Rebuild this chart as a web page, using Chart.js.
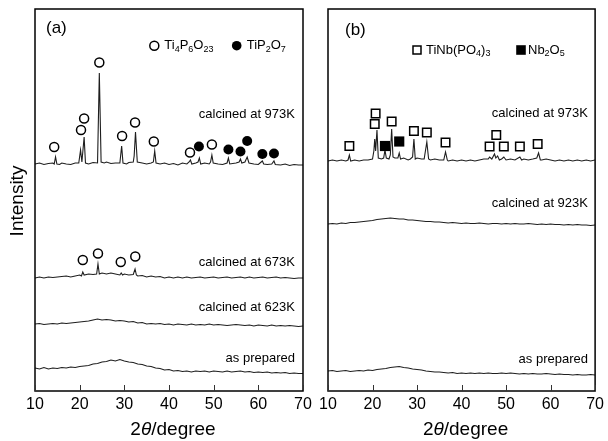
<!DOCTYPE html>
<html>
<head>
<meta charset="utf-8">
<script src="https://cdn.jsdelivr.net/npm/chart.js@4.4.0/dist/chart.umd.min.js"></script>
<style>
  html, body { margin: 0; padding: 0; background: #fff; overflow: hidden; }
  #wrap { position: relative; width: 608px; height: 441px; }
  canvas { position: absolute; left: 0; top: 0; }
</style>
</head>
<body>
<div id="wrap">
  <canvas id="chartA" width="608" height="441"></canvas>
  <canvas id="chartB" width="608" height="441"></canvas>
</div>
<script>
const FONT = '"Liberation Sans", Arial, sans-serif';

// 2theta ticks
const xTicks = [10, 20, 30, 40, 50, 60, 70];

// PANEL (a) TRACES  [2theta, intensity (offset units)]
const a973 = [
  [10,227],[11,228],[12,226.5],[13,227.5],[14,228],[14.3,227],[14.6,234],[14.9,227],[15.5,226.5],[16,228],
  [17,227],[18,226.5],[19,228],[19.8,228],[20.2,241],[20.5,229],[21.0,254],[21.3,228],[22,227],[23,228.5],
  [24,228],[24.4,318],[24.8,229],[25.5,228],[26,229],[27,227.5],[28,228],[29,228],[29.4,245],[29.7,228],
  [30.5,227],[31,228.5],[32,229],[32.2,235],[32.5,259],[32.9,229],[34,228],[35,227],[36,228],[36.5,229],
  [36.8,240],[37.1,228],[38,227],[39,228],[40,226.5],[41,227.5],[42,226],[43,228],[44,227],[44.5,229],
  [44.8,231],[45.1,227],[46,228],[46.5,229],[46.8,233],[47.1,227],[48,228],[49,227],[49.3,229],[49.6,236],
  [49.9,228],[51,227],[52,226.5],[53,228],[53.3,233],[53.6,227],[55,228],[55.7,229],[56.0,232],[56.3,228],
  [57,229],[57.5,234],[57.9,228],[59,227],[60,226.5],[60.9,230],[61.2,227],[62,226.5],[63,227],[63.5,230],
  [63.8,226.5],[65,226],[66,227],[67,225.5],[68,226.5],[69,226],[70,226]
];
const a673 = [
  [10,113],[11,114],[12,113],[13,114],[14,113.5],[15,114],[16,114.5],[17,115],[18,114],[19,115],
  [20,116],[20.4,115],[20.7,119],[21,116],[22,117],[23,116.5],[23.8,117],[24.1,127],[24.4,117],[25,118],
  [26,117],[27,118],[28,117],[29,116],[29.3,118],[29.6,116],[30,117],[31,116],[32,116.5],[32.4,122],
  [32.7,116],[33,115],[34,115.5],[35,114],[36,115],[37,114],[38,114.5],[39,113],[40,114],[41,113],
  [42,114],[43,113],[44,114],[45,113],[46,113.5],[47,114],[48,113],[49,113.5],[50,114],[51,113],
  [52,113.5],[53,114],[54,113],[55,113.5],[56,114],[57,113],[58,114],[59,113],[60,113.5],[61,114],
  [62,113],[63,113.5],[64,114],[65,113],[66,113.5],[67,113],[68,112.5],[69,113],[70,113]
];
const a623 = [
  [10,67],[11,67.5],[12,66.5],[13,67],[14,67.5],[15,67],[16,68],[17,67.5],[18,68],[19,68.5],
  [20,69],[21,69.5],[22,70],[23,71],[24,72],[25,71],[26,71.5],[27,71],[28,70],[29,70.5],
  [30,70],[31,69],[32,69.5],[33,68],[34,68.5],[35,67],[36,67.5],[37,67],[38,67.5],[39,66.5],
  [40,67],[41,66],[42,67],[43,66.5],[44,66],[45,67],[46,66],[47,66.5],[48,66],[49,67],
  [50,66],[51,66.5],[52,66],[53,65.5],[54,66],[55,66.5],[56,66],[57,65.5],[58,66],[59,65],
  [60,66],[61,65.5],[62,65],[63,66],[64,65],[65,65.5],[66,65],[67,65.5],[68,65],[69,64.5],[70,65]
];
const aPrep = [
  [10,23],[11,22],[12,23.5],[13,22],[14,23],[15,22.5],[16,23.5],[17,23],[18,24],[19,23.5],
  [20,24.5],[21,25],[22,25.5],[23,27],[24,27.5],[25,29],[26,29.5],[27,31],[28,30],[29,31.5],
  [30,30],[31,29],[32,28.5],[33,27],[34,26.5],[35,25],[36,24.5],[37,23],[38,22.5],[39,21],
  [40,21.5],[41,20],[42,20.5],[43,19.5],[44,20],[45,19],[46,20],[47,19.5],[48,20],[49,19],
  [50,20],[51,19.5],[52,19],[53,20],[54,19],[55,19.5],[56,20],[57,19],[58,19.5],[59,18.5],
  [60,19],[61,18.5],[62,19],[63,18],[64,18.5],[65,18],[66,18.5],[67,17.5],[68,18],[69,17.5],[70,17.5]
];
// PANEL (a) PHASE MARKERS
const aTi4P6O23 = [
  [14.3,244],[20.3,261],[21.0,272.5],[24.4,328.5],[29.5,255],[32.4,268.5],[36.6,249.5],[44.7,238.5],[49.6,246.5],
  [20.7,131],[24.1,137.5],[29.2,129],[32.45,134.5]
];
const aTiP2O7 = [[46.7,244.5],[53.3,241.5],[56.0,239.5],[57.5,250],[60.9,237],[63.5,237.5]];

// PANEL (b) TRACES
const b973 = [
  [10,230],[11,231],[12,230],[13,231],[14,230],[14.5,231],[14.8,236],[15.1,230],[16,231],[17,230],
  [18,231],[19,231],[20,232],[20.3,240],[20.5,252],[20.7,240],[21.0,261],[21.3,233],[22,232],[22.5,233],
  [22.8,241],[23.1,233],[23.7,232],[24.0,236],[24.3,262],[24.6,234],[25,233],[25.7,233],[26.0,238],[26.3,232],
  [27,233],[28,231],[28.5,232],[29.0,234],[29.3,252],[29.6,232],[30,233],[31,232],[31.6,232],[32.2,249],
  [32.6,232],[33,231],[34,232],[35,231],[36,231],[36.4,239],[36.8,231],[37,230],[38,231],[39,230],
  [40,231],[41,230],[42,231],[43,230],[44,231],[45,232],[46,232],[46.3,234],[46.8,232],[47.4,237],
  [47.7,233],[48.1,235],[48.5,231],[49,232],[49.5,234],[50,231],[51,232],[52,231],[53.1,234],[53.5,231],
  [54,232],[55,231],[56,232],[56.9,233],[57.3,238],[57.7,231],[58,231],[59,232],[60,231],[61,230],
  [62,231],[63,230],[64,231],[65,230],[66,231],[67,230],[68,231],[69,230],[70,231]
];
const b923 = [
  [10,167],[11,167.5],[12,167],[13,168],[14,167.5],[15,168.5],[16,168.5],[17,169],[18,169.5],[19,170],
  [20,170.5],[21,171.5],[22,172],[23,172.5],[24,173],[25,172.5],[26,172],[27,172],[28,171],[29,171],
  [30,170.5],[31,170],[32,169.5],[33,169.5],[34,169],[35,169],[36,168.5],[37,168],[38,168.5],[39,168],
  [40,167.5],[41,168],[42,167.5],[43,167.5],[44,168],[45,167.5],[46,167],[47,167.5],[48,167.5],[49,167],
  [50,167.5],[51,167],[52,167.5],[53,167],[54,167],[55,167.5],[56,167],[57,166.5],[58,167],[59,166.5],
  [60,167],[61,166.5],[62,166.5],[63,166],[64,166.5],[65,166],[66,166.5],[67,166],[68,166],[69,165.5],[70,166]
];
const bPrep = [
  [10,20],[11,20.5],[12,19.5],[13,20],[14,20.5],[15,19.5],[16,20],[17,20.5],[18,20],[19,21],
  [20,20.5],[21,21.5],[22,22],[23,22.5],[24,23.5],[25,24],[26,24.5],[27,23.5],[28,23],[29,22],
  [30,21.5],[31,21],[32,20],[33,19.5],[34,19],[35,19],[36,18.5],[37,18],[38,18.5],[39,17.5],
  [40,18],[41,17.5],[42,18],[43,17.5],[44,18],[45,17.5],[46,18],[47,17.5],[48,17.5],[49,18],
  [50,17.5],[51,18],[52,17.5],[53,17],[54,17.5],[55,17],[56,17.5],[57,17],[58,17],[59,17.5],
  [60,17],[61,16.5],[62,17],[63,16.5],[64,16.5],[65,16],[66,16.5],[67,16],[68,16],[69,16.5],[70,16]
];
// PANEL (b) PHASE MARKERS
const bTiNbPO43 = [
  [14.8,245],[20.5,267],[20.7,277.5],[24.3,269.5],[29.3,260],[32.2,258.5],[36.4,248.5],
  [46.3,244.5],[47.8,256],[49.5,244.5],[53.1,244.5],[57.1,247]
];
const bNb2O5 = [[22.8,245],[26.0,249.5]];

// DRAW TEXT WITH SUBSCRIPTS: parts = [[text, isSub], ...]
function drawRich(ctx, parts, x, y, size) {
  parts.forEach(([txt, sub]) => {
    ctx.font = (sub ? Math.round(size * 0.7) : size) + "px " + FONT;
    ctx.fillText(txt, x, sub ? y + 3.5 : y);
    x += ctx.measureText(txt).width;
  });
}

function drawMarker(ctx, kind, cx, cy) {
  ctx.beginPath();
  if (kind === "circle") {
    ctx.arc(cx, cy, 4.5, 0, Math.PI * 2);
  } else if (kind === "disc") {
    ctx.arc(cx, cy, 4.8, 0, Math.PI * 2);
  } else if (kind === "square") {
    ctx.rect(cx - 4, cy - 4, 8, 8);
  } else {
    ctx.rect(cx - 4.8, cy - 4.8, 9.6, 9.6);
  }
  if (kind === "disc" || kind === "block") {
    ctx.fillStyle = "#000";
    ctx.fill();
  } else {
    ctx.fillStyle = "#fff";
    ctx.fill();
    ctx.lineWidth = 1.5;
    ctx.strokeStyle = "#000";
    ctx.stroke();
  }
}

// FRAME / TICKS / LABELS PLUGIN
const decor = {
  id: "decor",
  afterDraw(chart, args, opts) {
    const {
      ctx,
      chartArea: { left, top, right, bottom },
      scales: { x, y },
    } = chart;
    ctx.save();

    // BOX
    ctx.strokeStyle = "#000";
    ctx.lineWidth = 1.5;
    ctx.strokeRect(left, top, right - left, bottom - top);

    // INWARD TICKS
    ctx.lineWidth = 1;
    ctx.strokeStyle = "#333";
    x.ticks.forEach((t) => {
      const px = Math.round(x.getPixelForValue(t.value)) + 0.5;
      ctx.beginPath();
      ctx.moveTo(px, bottom);
      ctx.lineTo(px, bottom - 6);
      ctx.stroke();
    });

    ctx.fillStyle = "#000";
    ctx.textBaseline = "middle";

    // PANEL TAG
    ctx.textAlign = "left";
    ctx.font = "17px " + FONT;
    ctx.fillText(opts.tag, left + opts.tagDx, top + opts.tagDy);

    // LEGEND
    opts.legend.forEach((item) => {
      drawMarker(ctx, item.kind, left + item.dx, top + item.dy);
      ctx.fillStyle = "#000";
      ctx.textBaseline = "middle";
      drawRich(ctx, item.parts, left + item.dx + item.gap, top + item.dy, 13);
    });

    // TRACE LABELS
    ctx.textAlign = "right";
    ctx.textBaseline = "middle";
    ctx.font = "13px " + FONT;
    ctx.fillStyle = "#000";
    opts.labels.forEach((l) => {
      ctx.fillText(l.text, x.getPixelForValue(opts.labelX), y.getPixelForValue(l.at));
    });

    // X TITLE: 2θ/degree
    ctx.textAlign = "left";
    ctx.textBaseline = "middle";
    const pieces = [["2", ""], ["θ", "italic "], ["/degree", ""]];
    let w = 0;
    pieces.forEach(([t, st]) => {
      ctx.font = st + "19px " + FONT;
      w += ctx.measureText(t).width;
    });
    let cx = (left + right) / 2 + 4 - w / 2;
    pieces.forEach(([t, st]) => {
      ctx.font = st + "19px " + FONT;
      ctx.fillText(t, cx, 430);
      cx += ctx.measureText(t).width;
    });

    // Y TITLE
    if (opts.yTitle) {
      ctx.save();
      ctx.translate(18, (top + bottom) / 2 + 1);
      ctx.rotate(-Math.PI / 2);
      ctx.textAlign = "center";
      ctx.font = "19px " + FONT;
      ctx.fillText(opts.yTitle, 0, 0);
      ctx.restore();
    }

    ctx.restore();
  },
};

function traceSet(data) {
  return {
    data: data,
    showLine: true,
    borderColor: "#1e1e1e",
    borderWidth: 1.1,
    pointRadius: 0,
    tension: 0,
    order: 2,
  };
}

function markerSet(data, style, filled, radius) {
  return {
    data: data,
    showLine: false,
    pointStyle: style,
    pointRadius: radius,
    backgroundColor: filled ? "#000" : "#fff",
    borderColor: "#000",
    borderWidth: filled ? 0 : 1.5,
    order: 0,
  };
}

function makePanel(el, padLeft, padRight, datasets, decorOpts) {
  return new Chart(el, {
    type: "scatter",
    data: { datasets: datasets },
    options: {
      responsive: false,
      devicePixelRatio: 1,
      animation: false,
      events: [],
      layout: { padding: { left: padLeft, right: padRight, top: 9, bottom: 0 } },
      plugins: { legend: { display: false }, tooltip: { enabled: false }, decor: decorOpts },
      scales: {
        x: {
          type: "linear",
          min: 10,
          max: 70,
          afterBuildTicks: (scale) => {
            scale.ticks = xTicks.map((v) => ({ value: v }));
          },
          afterFit: (scale) => {
            scale.height = 50;
          },
          grid: { display: false, drawTicks: false },
          border: { display: false },
          ticks: {
            padding: 4,
            color: "#000",
            font: { family: FONT, size: 16 },
          },
        },
        y: { display: false, min: 0, max: 382 },
      },
    },
    plugins: [decor],
  });
}

makePanel(
  document.getElementById("chartA"),
  35,
  305,
  [
    markerSet(aTi4P6O23, "circle", false, 4.5),
    markerSet(aTiP2O7, "circle", true, 5),
    traceSet(a973),
    traceSet(a673),
    traceSet(a623),
    traceSet(aPrep),
  ],
  {
    tag: "(a)",
    tagDx: 11,
    tagDy: 19,
    yTitle: "Intensity",
    labelX: 68.2,
    labels: [
      { text: "calcined at 973K", at: 277 },
      { text: "calcined at 673K", at: 129 },
      { text: "calcined at 623K", at: 84 },
      { text: "as prepared", at: 32.5 },
    ],
    legend: [
      { kind: "circle", dx: 119.3, dy: 36.7, gap: 10, parts: [["Ti", 0], ["4", 1], ["P", 0], ["6", 1], ["O", 0], ["23", 1]] },
      { kind: "disc", dx: 201.7, dy: 36.7, gap: 10, parts: [["TiP", 0], ["2", 1], ["O", 0], ["7", 1]] },
    ],
  }
);

makePanel(
  document.getElementById("chartB"),
  328,
  12,
  [
    markerSet(bTiNbPO43, "rect", false, 6),
    markerSet(bNb2O5, "rect", true, 7.2),
    traceSet(b973),
    traceSet(b923),
    traceSet(bPrep),
  ],
  {
    tag: "(b)",
    tagDx: 17,
    tagDy: 21,
    yTitle: null,
    labelX: 68.4,
    labels: [
      { text: "calcined at 973K", at: 277.5 },
      { text: "calcined at 923K", at: 187.5 },
      { text: "as prepared", at: 31.5 },
    ],
    legend: [
      { kind: "square", dx: 89, dy: 41, gap: 9, parts: [["TiNb(PO", 0], ["4", 1], [")", 0], ["3", 1]] },
      { kind: "block", dx: 193, dy: 41, gap: 7, parts: [["Nb", 0], ["2", 1], ["O", 0], ["5", 1]] },
    ],
  }
);
</script>
</body>
</html>
